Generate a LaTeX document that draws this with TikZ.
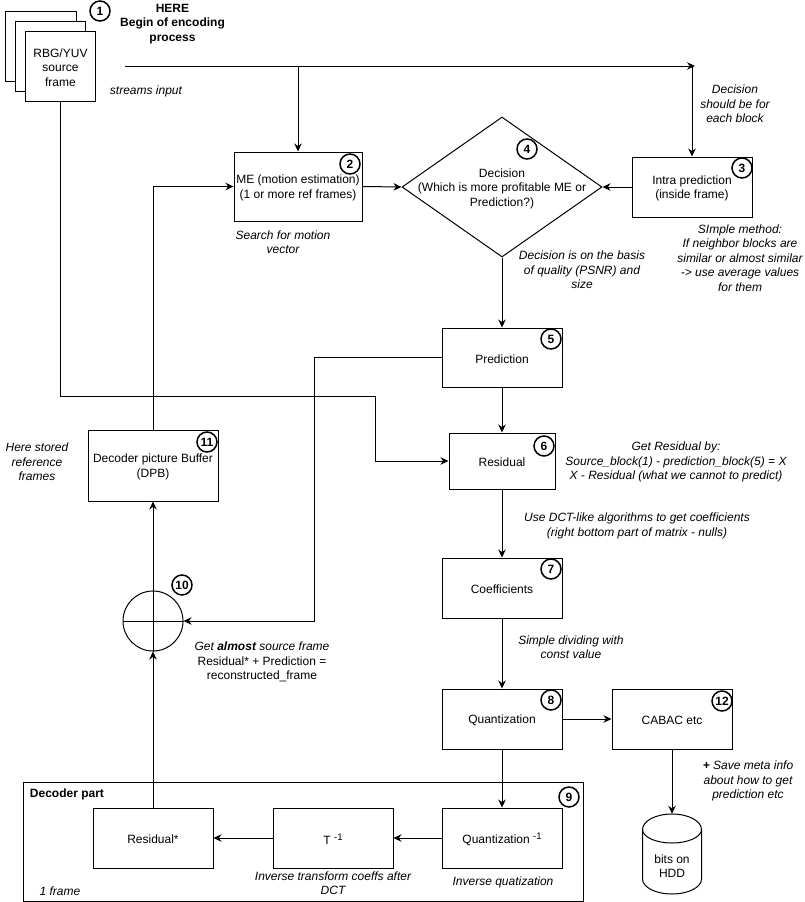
\documentclass[tikz,border=0pt]{standalone}
\usepackage{fontspec}
\setmainfont{Liberation Sans}
\usetikzlibrary{arrows.meta,shapes.geometric}
\newcommand{\inversemark}{\raisebox{4pt}{\fontsize{9.5}{9.5}\selectfont -1}}
\tikzset{
  flowbox/.style={draw=black,fill=white,line width=1pt,inner sep=0pt},
  numcircle/.style={circle,draw=black,fill=white,line width=1.5pt,minimum size=20pt,inner sep=0pt,font=\fontsize{12}{14.4}\selectfont\bfseries},
  plainnote/.style={align=center,inner sep=0pt,font=\fontsize{12}{14.4}\selectfont},
  boxtext/.style={plainnote,yshift=-1.5pt},
  italnote/.style={plainnote,font=\fontsize{12}{14.4}\selectfont\itshape},
  flowline/.style={draw=black,line width=1pt,-{Stealth[length=8pt,width=7.5pt]}},
  plainline/.style={draw=black,line width=1pt}
}
\begin{document}
\begin{tikzpicture}[x=1pt,y=1pt]
\useasboundingbox (0,0) rectangle (804,-902);
% source frames
\node [flowbox,minimum width=71pt,minimum height=70pt] (frameA) at (40.5,-46.5) {};
\node [flowbox,minimum width=70pt,minimum height=70pt] (frameB) at (50.5,-56) {};
\node [flowbox,minimum width=70pt,minimum height=70pt] (frameC) at (60.5,-66) {};
\node [boxtext] (frameText) at (frameC) {RBG/YUV\\source\\frame};
\node [plainnote,font=\fontsize{12}{14.4}\selectfont\bfseries] (hereNote) at (172.5,-24) {HERE\\Begin of encoding\\process};
\node [italnote] (streamNote) at (146,-91.5) {streams input};
% top row
\node [flowbox,minimum width=128pt,minimum height=69pt] (meBox) at (298,-186.5) {};
\node [boxtext] (meText) at (meBox) {ME (motion estimation)\\(1 or more ref frames)};
\node [flowbox,diamond,minimum width=200pt,minimum height=140pt,aspect=1.43] (decisionBox) at (502,-187) {};
\node [boxtext] (decisionText) at (decisionBox) {Decision\\(Which is more profitable ME or\\Prediction?)};
\node [flowbox,minimum width=120pt,minimum height=60pt] (intraBox) at (692,-187) {};
\node [boxtext] (intraText) at (intraBox) {Intra prediction\\(inside frame)};
\node [italnote] (blockNote) at (735,-104) {Decision\\should be for\\each block};
\node [italnote] (searchNote) at (283,-242) {Search for motion\\vector};
\node [italnote] (methodNote) at (740,-258) {SImple method:\\If neighbor blocks are\\similar or almost similar\\-> use average values\\for them};
\node [italnote] (qualityNote) at (582,-270) {Decision is on the basis\\of quality (PSNR) and\\size};
% middle column
\node [flowbox,minimum width=120pt,minimum height=59pt] (predBox) at (502,-357.5) {};
\node [boxtext] (predText) at (predBox) {Prediction};
\node [flowbox,minimum width=106pt,minimum height=56pt] (resBox) at (502,-461) {};
\node [boxtext] (resText) at (resBox) {Residual};
\node [flowbox,minimum width=120pt,minimum height=60pt] (coefBox) at (502,-588) {};
\node [boxtext] (coefText) at (coefBox) {Coefficients};
\node [flowbox,minimum width=120pt,minimum height=60pt] (quantBox) at (502,-719) {};
\node [boxtext] (quantText) at (quantBox) {Quantization};
\node [flowbox,minimum width=120pt,minimum height=60pt] (cabacBox) at (672,-719) {};
\node [boxtext] (cabacText) at (cabacBox) {CABAC etc};
% hdd cylinder
\node [inner sep=0pt,minimum width=59pt,minimum height=80pt] (hddBox) at (672,-854) {};
\draw [plainline] (642.5,-829.5) arc (180:0:29.5 and 15.5) -- (701.5,-879) arc (0:-180:29.5 and 15) -- cycle;
\draw [plainline] (642.5,-829.5) arc (180:360:29.5 and 13.5);
\node [plainnote] (hddText) at (672,-866) {bits on\\HDD};
\node [italnote] (residualNote) at (676,-462) {Get Residual by:\\Source\_block(1) - prediction\_block(5) = X\\X - Residual (what we cannot to predict)};
\node [italnote] (dctNote) at (637,-526) {Use DCT-like algorithms to get coefficients\\(right bottom part of matrix - nulls)};
\node [italnote] (divNote) at (571,-647) {Simple dividing with\\const value};
\node [italnote] (metaNote) at (748,-781) {{\bfseries +} Save meta info\\about how to get\\prediction etc};
% left column
\node [flowbox,minimum width=130pt,minimum height=71pt] (dpbBox) at (153,-465.5) {};
\node [boxtext] (dpbText) at (dpbBox) {Decoder picture Buffer\\(DPB)};
\node [flowbox,circle,minimum size=60pt] (sumBox) at (153,-621) {};
\node [italnote] (storedNote) at (37,-462) {Here stored\\reference\\frames};
\node [plainnote] (almostNote) at (262,-662) {\textit{Get \textbf{almost} source frame}\\Residual* + Prediction =\\reconstructed\_frame};
% decoder part
\node [flowbox,fill=none,minimum width=560pt,minimum height=119pt] (decoderBox) at (303,-841.5) {};
\node [plainnote,font=\fontsize{12}{14.4}\selectfont\bfseries] (decoderText) at (67,-794) {Decoder part};
\node [flowbox,minimum width=120pt,minimum height=60pt] (resStarBox) at (153,-838) {};
\node [boxtext] (resStarText) at (resStarBox) {Residual*};
\node [flowbox,minimum width=120pt,minimum height=60pt] (invTBox) at (333,-838) {};
\node [boxtext] (invTText) at (invTBox) {T \inversemark};
\node [flowbox,minimum width=120pt,minimum height=60pt] (invQuantBox) at (502,-838) {};
\node [boxtext] (invQuantText) at (invQuantBox) {Quantization \inversemark};
\node [italnote] (frameNote) at (60,-891) {1 frame};
\node [italnote] (invTNote) at (333,-883) {Inverse transform coeffs after\\DCT};
\node [italnote] (invQuantNote) at (503,-882) {Inverse quatization};
% numbers
\node [numcircle] (numA) at (100,-11) {1};
\node [numcircle] (numB) at (350,-164) {2};
\node [numcircle] (numC) at (742,-168) {3};
\node [numcircle] (numD) at (527,-149) {4};
\node [numcircle] (numE) at (551,-339) {5};
\node [numcircle] (numF) at (544,-446) {6};
\node [numcircle] (numG) at (551,-569) {7};
\node [numcircle] (numH) at (551,-700) {8};
\node [numcircle] (numI) at (569,-797) {9};
\node [numcircle] (numJ) at (182,-585) {10};
\node [numcircle] (numK) at (207,-442) {11};
\node [numcircle] (numL) at (722,-701) {12};
% connectors
\coordinate (inStart) at (125,-66);
\coordinate (inMid) at (298,-66);
\coordinate (inEnd) at (692,-66);
\coordinate (inTip) at (695,-66);
\coordinate (srcBend) at (375,-396);
\coordinate (predBend) at (314,-357.5);
\draw [flowline] (inStart) -- (inTip);
\draw [flowline] (inMid) -- (meBox.north);
\draw [flowline] (inEnd) -- (intraBox.north);
\draw [flowline] (frameC.south) |- (srcBend) |- (resBox.west);
\draw [flowline] (meBox.east) -- (decisionBox.west);
\draw [flowline] (intraBox.west) -- (decisionBox.east);
\draw [flowline] (decisionBox.south) -- (predBox.north);
\draw [flowline] (predBox.south) -- (resBox.north);
\draw [flowline] (resBox.south) -- (coefBox.north);
\draw [flowline] (coefBox.south) -- (quantBox.north);
\draw [flowline] (quantBox.east) -- (cabacBox.west);
\draw [flowline] (cabacBox.south) -- (hddBox.north);
\draw [flowline] (quantBox.south) -- (invQuantBox.north);
\draw [flowline] (invQuantBox.west) -- (invTBox.east);
\draw [flowline] (invTBox.west) -- (resStarBox.east);
\draw [flowline] (resStarBox.north) -- (sumBox.south);
\draw [flowline] (sumBox.north) -- (dpbBox.south);
\draw [flowline] (dpbBox.north) |- (meBox.west);
\draw [flowline] (predBox.west) -- (predBend) |- (sumBox.east);
\draw [plainline] (sumBox.west) -- (sumBox.east);
\draw [plainline] (sumBox.north) -- (sumBox.south);
\end{tikzpicture}
\end{document}
